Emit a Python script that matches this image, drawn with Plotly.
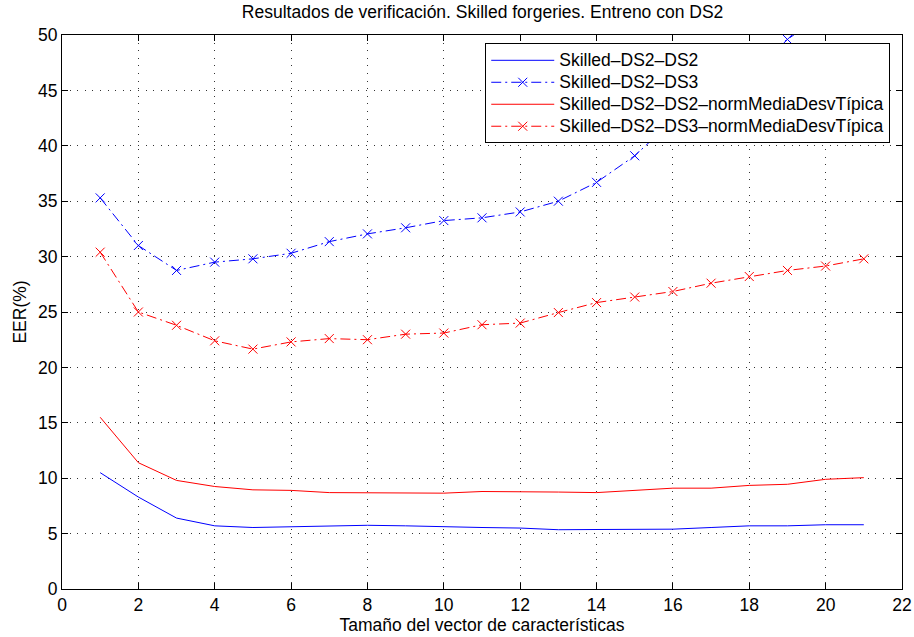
import plotly.graph_objects as go

# Feature vector size (x axis)
vector_size = list(range(1, 22))

# EER (%) per configuration
eer_ds2_ds2 = [10.5, 8.3, 6.4, 5.7, 5.55, 5.6, 5.7, 5.75, 5.7, 5.6, 5.55,
               5.5, 5.35, 5.37, 5.4, 5.4, 5.55, 5.7, 5.7, 5.8, 5.8]
eer_ds2_ds3 = [35.3, 31.0, 28.75, 29.5, 29.8, 30.3, 31.35, 32.05, 32.6, 33.25, 33.5,
               34.03, 35.0, 36.7, 39.1, 42.3, 44.8, 47.3, 49.6, 52.0, 54.5]
eer_ds2_ds2_norm = [15.5, 11.4, 9.8, 9.25, 8.95, 8.9, 8.7, 8.7, 8.7, 8.65, 8.8,
                    8.8, 8.75, 8.7, 8.9, 9.1, 9.1, 9.35, 9.45, 9.9, 10.05]
eer_ds2_ds3_norm = [30.4, 25.0, 23.8, 22.4, 21.65, 22.3, 22.6, 22.5, 23.0, 23.1, 23.85,
                    24.0, 24.95, 25.85, 26.35, 26.85, 27.6, 28.2, 28.75, 29.15, 29.8]

series_names = ["Skilled\u2013DS2\u2013DS2",
                "Skilled\u2013DS2\u2013DS3",
                "Skilled\u2013DS2\u2013DS2\u2013normMediaDesvTípica",
                "Skilled\u2013DS2\u2013DS3\u2013normMediaDesvTípica"]

x_ticks = list(range(0, 23, 2))
y_ticks = list(range(0, 51, 5))

FONT = "Liberation Sans, Arial, Helvetica, sans-serif"
FS = 17.5
DASHDOT = "10px,4px,2px,4px"


def legend_label(text):
    # larger glyphs than the legend's base size keep the rows compact
    return f'<span style="font-size:{FS}px">{text}</span>'


fig = go.Figure()
fig.add_trace(go.Scatter(x=vector_size, y=eer_ds2_ds2, name=legend_label(series_names[0]),
                         mode="lines", line=dict(color="#0000ff", width=1)))
fig.add_trace(go.Scatter(x=vector_size, y=eer_ds2_ds3, name=legend_label(series_names[1]),
                         mode="lines+markers", line=dict(color="#0000ff", width=1, dash=DASHDOT),
                         marker=dict(symbol="x-thin", size=9, line=dict(color="#0000ff", width=1))))
fig.add_trace(go.Scatter(x=vector_size, y=eer_ds2_ds2_norm, name=legend_label(series_names[2]),
                         mode="lines", line=dict(color="#ff0000", width=1)))
fig.add_trace(go.Scatter(x=vector_size, y=eer_ds2_ds3_norm, name=legend_label(series_names[3]),
                         mode="lines+markers", line=dict(color="#ff0000", width=1, dash=DASHDOT),
                         marker=dict(symbol="x-thin", size=9, line=dict(color="#ff0000", width=1))))

axis_common = dict(
    showline=True, linecolor="black", linewidth=1, mirror="ticks",
    ticks="inside", ticklen=6, tickcolor="black", automargin=False,
    showgrid=True, gridcolor="rgba(0,0,0,0.8)", gridwidth=1, griddash="1px,6.6px",
    zeroline=False, tickfont=dict(size=FS, color="black", family=FONT),
)

fig.update_xaxes(range=[0, 22], tickvals=x_ticks, **axis_common,
                 title=dict(text="Tamaño del vector de características",
                            font=dict(size=FS, color="black", family=FONT), standoff=1))
fig.update_yaxes(range=[0, 50], tickvals=y_ticks, **axis_common,
                 title=dict(text="EER(%)", font=dict(size=FS, color="black", family=FONT), standoff=6))

fig.update_layout(
    width=914, height=637,
    margin=dict(l=62, r=12, t=35, b=48),
    paper_bgcolor="white", plot_bgcolor="white",
    title=dict(text="Resultados de verificación. Skilled forgeries. Entreno con DS2",
               x=0.528, xanchor="center", y=0.981, yanchor="middle",
               font=dict(size=FS, color="black", family=FONT)),
    legend=dict(x=0.986, xanchor="right", y=0.985, yanchor="top",
                bgcolor="white", bordercolor="black", borderwidth=1,
                font=dict(size=14.6, color="black", family=FONT),
                itemwidth=63, tracegroupgap=0),
    showlegend=True,
)

fig.write_html("out.html")
